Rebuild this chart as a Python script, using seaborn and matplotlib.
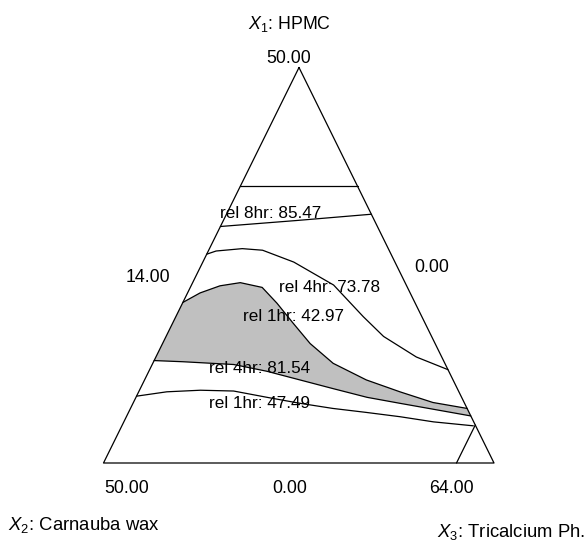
import numpy as np
import matplotlib
matplotlib.use("Agg")
import matplotlib.pyplot as plt
import seaborn as sns

# ---------------- data (component amounts, pseudo-simplex: X1+X2+X3 = 64, X3 >= 14) ----------------
TOTAL = 64.0
X3_MIN = 14.0
RANGE = 50.0

# constraint limits
HPMC_MAX = 35.0          # X1 upper limit (horizontal line)
TCP_MAX = 59.2           # X3 upper limit (line near bottom-right vertex)

# contour: rel 8hr = 85.47
rel8_8547_x1 = [29.9, 30.65, 31.45]
rel8_8547_x2 = [20.1, 10.05, 0.0]

# contour: rel 4hr = 73.78
rel4_7378_x1 = [26.4, 26.8, 27.1, 26.9, 25.4, 22.5, 18.5, 16.0, 13.4, 11.8]
rel4_7378_x2 = [23.6, 22.2, 18.7, 16.2, 12.95, 9.3, 7.5, 6.15, 3.25, 0.0]

# contour: rel 1hr = 42.97 (upper bound of shaded region)
rel1_4297_x1 = [20.3, 21.5, 22.4, 22.8, 22.2, 20.2, 17.7, 15.1, 12.6, 10.5, 9.0, 7.65, 6.9]
rel1_4297_x2 = [29.7, 26.9, 23.9, 21.1, 18.6, 17.7, 16.9, 16.0, 14.3, 11.1, 7.55, 4.0, 0.0]

# contour: rel 4hr = 81.54 (lower bound of shaded region)
rel4_8154_x1 = [12.95, 12.8, 12.45, 11.6, 10.5, 9.4, 8.3, 7.55, 6.8, 5.95]
rel4_8154_x2 = [37.05, 33.4, 27.1, 23.3, 19.6, 15.9, 12.1, 8.3, 4.4, 0.0]

# contour: rel 1hr = 47.49
rel1_4749_x1 = [8.45, 9.0, 9.2, 9.1, 8.3, 7.55, 6.9, 6.4, 5.85, 5.2, 4.7]
rel1_4749_x2 = [41.55, 37.4, 33.0, 28.8, 24.9, 21.1, 17.2, 13.2, 9.1, 5.15, 0.3]

contour_labels = ["rel 8hr: 85.47", "rel 4hr: 73.78", "rel 1hr: 42.97",
                  "rel 4hr: 81.54", "rel 1hr: 47.49"]
vertex_labels = ["50.00", "50.00", "64.00"]       # X1 top, X2 left, X3 right
edge_labels = ["14.00", "0.00", "0.00"]           # left edge, right edge, bottom edge
axis_titles = [r"$\mathit{X_1}$: HPMC", r"$\mathit{X}_{2}$: Carnauba wax",
               r"$\mathit{X}_{3}$: Tricalcium Ph."]

# ---------------- layout ----------------
W, H = 587, 541
TOP = (299.0, 67.5)
BL = (103.5, 463.0)
BR = (494.0, 463.0)


def to_xy(x1, x2):
    a = np.asarray(x1, float) / RANGE
    b = np.asarray(x2, float) / RANGE
    c = 1.0 - a - b
    x = TOP[0] * a + BL[0] * b + BR[0] * c
    y = TOP[1] * a + BL[1] * b + BR[1] * c
    return x, y


sns.set_theme(style="white")
plt.rcParams["font.family"] = ["Liberation Sans", "DejaVu Sans"]
plt.rcParams["mathtext.fontset"] = "custom"
plt.rcParams["mathtext.rm"] = "Liberation Sans"
plt.rcParams["mathtext.it"] = "Liberation Sans:italic"
plt.rcParams["text.color"] = "black"

fig = plt.figure(figsize=(W / 100, H / 100), dpi=100)
ax = fig.add_axes([0, 0, 1, 1])
ax.set_xlim(0, W)
ax.set_ylim(H, 0)
ax.axis("off")

LW = 0.9
BLACK = "black"

# shaded region between rel1hr 42.97 and rel4hr 81.54
ux, uy = to_xy(rel1_4297_x1, rel1_4297_x2)
lx, ly = to_xy(rel4_8154_x1, rel4_8154_x2)
poly_x = np.concatenate([ux, lx[::-1]])
poly_y = np.concatenate([uy, ly[::-1]])
ax.fill(poly_x, poly_y, color="#c0c0c0", lw=0, zorder=1)

# triangle
tri_x1 = [RANGE, 0.0, 0.0, RANGE]
tri_x2 = [0.0, RANGE, 0.0, 0.0]
tx, ty = to_xy(tri_x1, tri_x2)
sns.lineplot(x=tx, y=ty, sort=False, estimator=None, color=BLACK, lw=LW, ax=ax, zorder=3)

# constraint lines
hx, hy = to_xy([HPMC_MAX, HPMC_MAX], [RANGE - HPMC_MAX, 0.0])
sns.lineplot(x=hx, y=hy, sort=False, estimator=None, color=BLACK, lw=LW, ax=ax, zorder=3)
s = TOTAL - TCP_MAX
cx, cy = to_xy([0.0, s], [s, 0.0])
sns.lineplot(x=cx, y=cy, sort=False, estimator=None, color=BLACK, lw=LW, ax=ax, zorder=3)

# contours
for x1, x2 in [(rel8_8547_x1, rel8_8547_x2), (rel4_7378_x1, rel4_7378_x2),
               (rel1_4297_x1, rel1_4297_x2), (rel4_8154_x1, rel4_8154_x2),
               (rel1_4749_x1, rel1_4749_x2)]:
    px, py = to_xy(x1, x2)
    sns.lineplot(x=px, y=py, sort=False, estimator=None, color=BLACK, lw=LW, ax=ax, zorder=3)

FS = 12.8
CFS = 12.3

# contour labels (left x, baseline y)
label_pos = [(219.5, 218.3), (279.3, 292.3), (243.3, 320.7), (209.3, 373.3), (209.3, 407.7)]
for txt, (x, y) in zip(contour_labels, label_pos):
    ax.text(x, y, txt, fontsize=CFS, ha="left", va="baseline", color=BLACK, zorder=4)

# vertex labels
ax.text(288.5, 63.3, vertex_labels[0], fontsize=FS, ha="center", va="baseline", color=BLACK)
ax.text(127.0, 493.3, vertex_labels[1], fontsize=FS, ha="center", va="baseline", color=BLACK)
ax.text(451.7, 493.3, vertex_labels[2], fontsize=FS, ha="center", va="baseline", color=BLACK)
# edge labels
ax.text(148.0, 282.3, edge_labels[0], fontsize=FS, ha="center", va="baseline", color=BLACK)
ax.text(431.7, 271.7, edge_labels[1], fontsize=FS, ha="center", va="baseline", color=BLACK)
ax.text(290.0, 493.3, edge_labels[2], fontsize=FS, ha="center", va="baseline", color=BLACK)
# axis titles
ax.text(289.0, 29.5, axis_titles[0], fontsize=FS, ha="center", va="baseline", color=BLACK)
ax.text(8.3, 530.0, axis_titles[1], fontsize=13.3, ha="left", va="baseline", color=BLACK)
ax.text(436.7, 537.0, axis_titles[2], fontsize=13.3, ha="left", va="baseline", color=BLACK)

fig.savefig("out.png", dpi=100, facecolor="white")
